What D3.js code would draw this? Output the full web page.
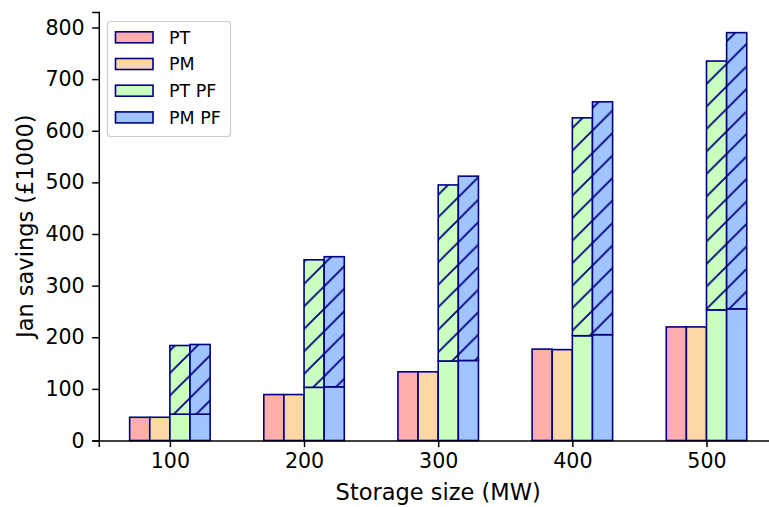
<!DOCTYPE html>
<html>
<head>
<meta charset="utf-8">
<script src="https://cdn.jsdelivr.net/npm/d3@7"></script>
<style>
  body { margin: 0; background: #fff; }
  text { font-family: "DejaVu Sans", sans-serif; fill: #000; }
</style>
</head>
<body>
<script>
// data
let sizes = [100, 200, 300, 400, 500];
let ptVals = [45, 89, 133, 177, 220];
let pmVals = [45, 89, 133, 176, 220];
let ptPfBase = [51, 103, 154, 203, 253];
let ptPfTotal = [184, 350, 495, 625, 735];
let pmPfBase = [51, 104, 155, 205, 255];
let pmPfTotal = [186, 356, 512, 656, 790];
let seriesNames = ["PT", "PM", "PT PF", "PM PF"];
let colors = ["#ffadad", "#ffd6a5", "#caffbf", "#a0c4ff"];
let yTicks = [0, 100, 200, 300, 400, 500, 600, 700, 800];

let w = 769, h = 507;
let edge = "#000080";
let barW = 15;
let offsets = [-22.5, -7.5, 7.5, 22.5];

let x = d3.scaleLinear().domain([47, 553]).range([98.8, 777.6]);
let y = d3.scaleLinear().domain([0, 830]).range([440.5, 12]);

let svg = d3.select("body").append("svg")
  .attr("width", w).attr("height", h);

// hatch pattern "/"
let hs = 22.5;
svg.append("defs").append("pattern")
  .attr("id", "hatch")
  .attr("patternUnits", "userSpaceOnUse")
  .attr("patternTransform", "translate(3,0)")
  .attr("width", hs).attr("height", hs)
  .append("path")
  .attr("d", `M0,${hs}L${hs},0M${-hs/4},${hs/4}L${hs/4},${-hs/4}M${hs*3/4},${hs*5/4}L${hs*5/4},${hs*3/4}`)
  .attr("stroke", edge).attr("stroke-width", 1.8).attr("fill", "none");

// build bar segments from the arrays
let segs = [];
sizes.forEach(function(s, i) {
  segs.push({ x: s + offsets[0], y0: 0, y1: ptVals[i], c: colors[0], hatch: false });
  segs.push({ x: s + offsets[1], y0: 0, y1: pmVals[i], c: colors[1], hatch: false });
  segs.push({ x: s + offsets[2], y0: 0, y1: ptPfBase[i], c: colors[2], hatch: false });
  segs.push({ x: s + offsets[3], y0: 0, y1: pmPfBase[i], c: colors[3], hatch: false });
});
sizes.forEach(function(s, i) {
  segs.push({ x: s + offsets[2], y0: ptPfBase[i], y1: ptPfTotal[i], c: colors[2], hatch: true });
  segs.push({ x: s + offsets[3], y0: pmPfBase[i], y1: pmPfTotal[i], c: colors[3], hatch: true });
});

let bars = svg.append("g").selectAll("g")
  .data(segs).enter().append("g");

bars.append("rect")
  .attr("x", d => x(d.x - barW / 2))
  .attr("y", d => y(d.y1))
  .attr("width", d => x(d.x + barW / 2) - x(d.x - barW / 2))
  .attr("height", d => y(d.y0) - y(d.y1))
  .attr("fill", d => d.c);

bars.filter(d => d.hatch).append("rect")
  .attr("x", d => x(d.x - barW / 2))
  .attr("y", d => y(d.y1))
  .attr("width", d => x(d.x + barW / 2) - x(d.x - barW / 2))
  .attr("height", d => y(d.y0) - y(d.y1))
  .attr("fill", "url(#hatch)");

bars.append("rect")
  .attr("x", d => x(d.x - barW / 2))
  .attr("y", d => y(d.y1))
  .attr("width", d => x(d.x + barW / 2) - x(d.x - barW / 2))
  .attr("height", d => y(d.y0) - y(d.y1))
  .attr("fill", "none")
  .attr("stroke", edge).attr("stroke-width", 1.6);

// axes
let xAxis = svg.append("g")
  .attr("transform", "translate(0," + y(0) + ")")
  .call(d3.axisBottom(x).tickValues(sizes).tickSize(6.6).tickPadding(6.6));
let yAxis = svg.append("g")
  .attr("transform", "translate(" + x(47) + ",0)")
  .call(d3.axisLeft(y).tickValues(yTicks).tickSize(6.6).tickPadding(7.5));

[xAxis, yAxis].forEach(function(a) {
  a.select(".domain").attr("stroke", "#000").attr("stroke-width", 1.5);
  a.selectAll(".tick line").attr("stroke", "#000").attr("stroke-width", 1.5);
  a.selectAll(".tick text").style("font-size", "20.6px").attr("fill", "#000");
});

svg.append("text")
  .attr("x", (x.range()[0] + x.range()[1]) / 2)
  .attr("y", 500)
  .attr("text-anchor", "middle")
  .style("font-size", "22.5px")
  .text("Storage size (MW)");

svg.append("text")
  .attr("transform", "translate(33," + (y.range()[0] + y.range()[1]) / 2 + ") rotate(-90)")
  .attr("text-anchor", "middle")
  .style("font-size", "22.5px")
  .text("Jan savings (£1000)");

// legend
let lg = svg.append("g");
lg.append("rect")
  .attr("x", 107.5).attr("y", 21.5)
  .attr("width", 123).attr("height", 115)
  .attr("rx", 3)
  .attr("fill", "#fff").attr("fill-opacity", 0.8)
  .attr("stroke", "#cccccc").attr("stroke-width", 1.2);

let items = lg.selectAll(".item")
  .data(seriesNames).enter().append("g")
  .attr("transform", (d, i) => "translate(0," + (37.3 + i * 26.7) + ")");
items.append("rect")
  .attr("x", 115.5).attr("y", -5.5)
  .attr("width", 37.5).attr("height", 11)
  .attr("fill", (d, i) => colors[i])
  .attr("stroke", edge).attr("stroke-width", 1.6);
items.append("text")
  .attr("x", 169).attr("y", 6.3)
  .style("font-size", "17.5px")
  .text(d => d);
</script>
</body>
</html>
